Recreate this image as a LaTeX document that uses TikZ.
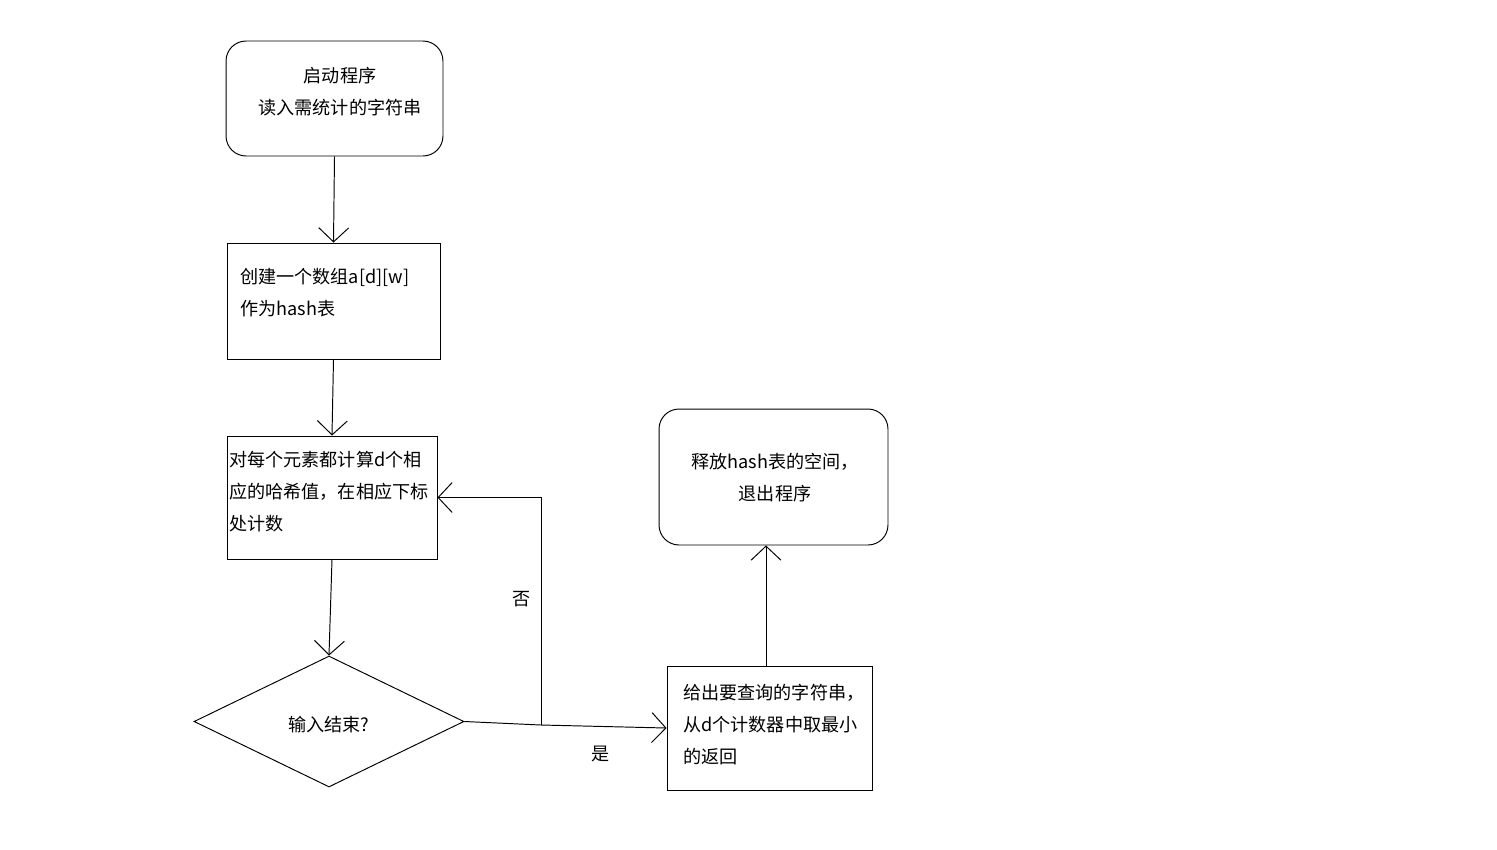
\documentclass[tikz,border=0pt]{standalone}
\usepackage{fontspec}
\setmainfont{Noto Sans CJK SC}
\usetikzlibrary{arrows.meta,shapes.geometric}
\begin{document}
\begin{tikzpicture}[x=0.02cm,y=-0.02cm,
  every node/.style={font=\fontsize{10.3}{18.2}\selectfont},
  proc/.style={draw,line width=0.55pt,inner sep=0pt},
  rproc/.style={proc,rounded corners=0.4cm},
  dec/.style={draw,line width=0.55pt,diamond,aspect=2.06,inner sep=0pt,minimum width=5.4cm,minimum height=2.62cm},
  txt/.style={inner sep=0pt},
  arr/.style={line width=0.55pt,-{Straight Barb[length=8pt,width=17pt]}}]
\useasboundingbox (0,0) rectangle (1497,849);
\node[rproc,minimum width=4.34cm,minimum height=2.3cm] (start) at (334.5,98.5) {};
\node[txt,align=center] at (340,92) {启动程序\\读入需统计的字符串};
\node[proc,minimum width=4.26cm,minimum height=2.32cm] (b2) at (333.5,301) {};
\node[txt,align=left,anchor=west] at (240,292.5) {创建一个数组a[d][w]\\作为hash表};
\node[proc,minimum width=4.2cm,minimum height=2.46cm] (b3) at (332,497.5) {};
\node[txt,align=left,anchor=west] at (229,491.5) {对每个元素都计算d个相\\应的哈希值，在相应下标\\处计数};
\node[dec] (dia) at (329,721.5) {};
\node[txt] at (329,725) {输入结束?};
\node[rproc,minimum width=4.58cm,minimum height=2.72cm] (end) at (773.5,477) {};
\node[txt,align=center] at (775,478) {释放hash表的空间，\\退出程序};
\node[proc,minimum width=4.1cm,minimum height=2.48cm] (b5) at (769.5,728) {};
\node[txt,align=left,anchor=west] at (683,725) {给出要查询的字符串，\\从d个计数器中取最小\\的返回};
\coordinate (j) at (541,725);
\draw[arr] (start.south) -- (b2.north);
\draw[arr] (b2.south) -- (b3.north);
\draw[arr] (b3.south) -- (dia.north);
\draw[arr] (dia.east) -- (j) -- (b5.west);
\draw[arr] (j) |- (b3.east);
\draw[arr] ([xshift=-0.07cm]b5.north) -- ([xshift=-0.07cm]b5.north |- end.south);
\node[txt] (no) at (522,599) {否};
\node[txt] (yes) at (601,754) {是};
\end{tikzpicture}
\end{document}
